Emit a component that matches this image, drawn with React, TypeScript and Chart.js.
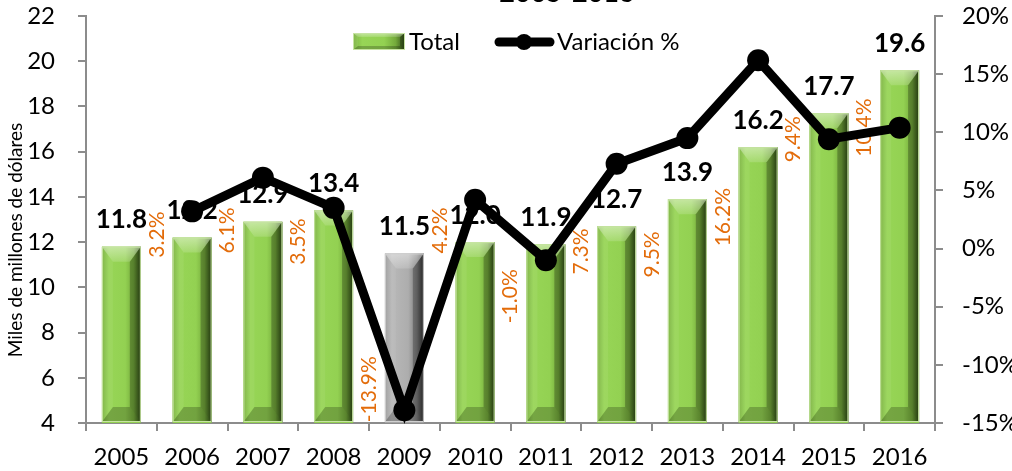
import React, { useEffect, useRef } from "react";
import { Chart, registerables } from "chart.js";

Chart.register(...registerables);

const years = ["2005", "2006", "2007", "2008", "2009", "2010", "2011", "2012", "2013", "2014", "2015", "2016"];
const totals = [11.8, 12.2, 12.9, 13.4, 11.5, 12.0, 11.9, 12.7, 13.9, 16.2, 17.7, 19.6];
const variation = [null, 3.2, 6.1, 3.5, -13.9, 4.2, -1.0, 7.3, 9.5, 16.2, 9.4, 10.4];
// where each rotated % label is centred, in right-axis units
const variationLabelAt = [null, 1.2, 1.55, 0.6, -12.1, 1.55, -4.1, -0.25, -0.5, 2.7, 9.4, 10.4];
const highlightYear = "2009";
const leftMin = 4, leftMax = 22, leftStep = 2;
const rightMin = -15, rightMax = 20, rightStep = 5;
const titleText = "2005-2016";
const yTitle = "Miles de millones de dólares";
const legendTotal = "Total";
const legendVar = "Variación %";

const FONT = "Lato, 'Open Sans', sans-serif";
const AXIS = "#8c8c8c";
const ORANGE = "#E36C0A";

const GREEN = { face: ["#7bb241", "#97d556", "#93d152", "#74aa3b", "#2f4c16"], edge: "#c6e3a2" };
const GRAY = { face: ["#9c9c9c", "#b8b8b8", "#adadad", "#7f7f7f", "#333333"], edge: "#d0d0d0" };

function drawBevel(ctx, x0, y0, x1, y1, pal, bh, bv) {
  const w = x1 - x0;
  const h = y1 - y0;
  if (w <= 0 || h <= 0) return;
  bv = Math.min(bv, h / 2);
  bh = Math.min(bh, w / 2);
  ctx.save();
  const g = ctx.createLinearGradient(x0, 0, x1, 0);
  g.addColorStop(0, pal.face[0]);
  g.addColorStop(0.18, pal.face[1]);
  g.addColorStop(0.6, pal.face[2]);
  g.addColorStop(0.82, pal.face[3]);
  g.addColorStop(1, pal.face[4]);
  ctx.fillStyle = g;
  ctx.fillRect(x0, y0, w, h);
  const poly = (pts, fill) => {
    ctx.beginPath();
    ctx.moveTo(pts[0][0], pts[0][1]);
    for (let i = 1; i < pts.length; i++) ctx.lineTo(pts[i][0], pts[i][1]);
    ctx.closePath();
    ctx.fillStyle = fill;
    ctx.fill();
  };
  const ix0 = x0 + bh, ix1 = x1 - bh, iy0 = y0 + bv, iy1 = y1 - bv;
  const tg = ctx.createLinearGradient(0, y0, 0, iy0);
  tg.addColorStop(0, "rgba(255,255,255,0.45)");
  tg.addColorStop(1, "rgba(255,255,255,0.15)");
  poly([[x0, y0], [x1, y0], [ix1, iy0], [ix0, iy0]], tg);
  poly([[x0, y1], [x1, y1], [ix1, iy1], [ix0, iy1]], "rgba(0,0,0,0.22)");
  poly([[x0, y0], [ix0, iy0], [ix0, iy1], [x0, y1]], "rgba(255,255,255,0.06)");
  poly([[x1, y0], [ix1, iy0], [ix1, iy1], [x1, y1]], "rgba(0,0,0,0.25)");
  ctx.strokeStyle = pal.edge;
  ctx.lineWidth = 1;
  ctx.strokeRect(x0 + 0.5, y0 + 0.5, w - 1, h - 1);
  ctx.restore();
}

const decor = {
  id: "decor",
  afterDatasetDraw(chart, args) {
    if (args.index !== 0) return;
    const ctx = chart.ctx;
    const meta = chart.getDatasetMeta(0);
    const xs = chart.scales.x;
    const y1 = chart.scales.y1;
    const bottom = chart.chartArea.bottom;
    const band = xs.width / years.length;
    meta.data.forEach((el, i) => {
      const p = el.getProps(["x", "y", "base", "width"], true);
      const pal = years[i] === highlightYear ? GRAY : GREEN;
      drawBevel(ctx, p.x - p.width / 2, p.y, p.x + p.width / 2, Math.min(p.base, bottom - 1), pal, 11, 15);
    });
    ctx.save();
    ctx.fillStyle = "#000";
    ctx.font = `bold 26px ${FONT}`;
    ctx.textAlign = "center";
    ctx.textBaseline = "middle";
    meta.data.forEach((el, i) => {
      const p = el.getProps(["x", "y"], true);
      ctx.fillText(totals[i].toFixed(1), p.x, p.y - 27);
    });
    ctx.fillStyle = ORANGE;
    ctx.font = `21px ${FONT}`;
    variation.forEach((v, i) => {
      if (v === null) return;
      const x = xs.getPixelForValue(i) - band / 2;
      const y = y1.getPixelForValue(variationLabelAt[i]);
      ctx.save();
      ctx.translate(x, y);
      ctx.rotate(-Math.PI / 2);
      ctx.fillText(v.toFixed(1) + "%", 0, 0);
      ctx.restore();
    });
    ctx.restore();
  },
  afterDraw(chart) {
    const ctx = chart.ctx;
    ctx.save();
    ctx.fillStyle = "#000";
    ctx.font = `bold 27px ${FONT}`;
    ctx.textAlign = "center";
    ctx.textBaseline = "alphabetic";
    ctx.fillText(titleText, 567, 2);
    ctx.save();
    ctx.translate(16, 240);
    ctx.rotate(-Math.PI / 2);
    ctx.font = `19px ${FONT}`;
    ctx.textBaseline = "middle";
    ctx.fillText(yTitle, 0, 0);
    ctx.restore();
    drawBevel(ctx, 353, 33, 405, 50, GREEN, 5, 4);
    ctx.font = `24px ${FONT}`;
    ctx.textAlign = "left";
    ctx.textBaseline = "middle";
    ctx.fillStyle = "#000";
    ctx.fillText(legendTotal, 409, 42);
    ctx.strokeStyle = "#000";
    ctx.lineWidth = 9;
    ctx.lineCap = "round";
    ctx.beginPath();
    ctx.moveTo(499, 42);
    ctx.lineTo(550, 42);
    ctx.stroke();
    ctx.beginPath();
    ctx.arc(524, 42, 8, 0, Math.PI * 2);
    ctx.fill();
    ctx.fillText(legendVar, 557, 42);
    ctx.restore();
  },
};

const noPadY = (w) => (s) => { s.width = w; s.paddingTop = 0; s.paddingBottom = 0; };

export default function App() {
  const ref = useRef(null);
  useEffect(() => {
    document.body.style.margin = "0";
    const chart = new Chart(ref.current, {
      type: "bar",
      data: {
        labels: years,
        datasets: [
          {
            type: "bar",
            label: legendTotal,
            data: totals,
            yAxisID: "y",
            backgroundColor: years.map((y) => (y === highlightYear ? "#a6a6a6" : "#92d050")),
            barPercentage: 0.55,
            categoryPercentage: 1,
            order: 2,
          },
          {
            type: "line",
            label: legendVar,
            data: variation,
            yAxisID: "y1",
            borderColor: "#000",
            backgroundColor: "#000",
            borderWidth: 9,
            pointRadius: 11,
            pointBorderWidth: 0,
            pointBackgroundColor: "#000",
            tension: 0,
            clip: false,
            order: 1,
          },
        ],
      },
      options: {
        responsive: false,
        animation: false,
        layout: { padding: { top: 16, left: 0, right: 0, bottom: 0 } },
        plugins: { legend: { display: false }, tooltip: { enabled: false }, title: { display: false } },
        scales: {
          x: {
            offset: true,
            grid: { offset: true, drawOnChartArea: false, tickLength: 8, color: AXIS, lineWidth: 2 },
            border: { color: AXIS, width: 2 },
            ticks: { font: { family: FONT, size: 24 }, color: "#000", padding: 12, maxRotation: 0, autoSkip: false },
            afterFit: (s) => { s.height = 48; s.paddingLeft = 0; s.paddingRight = 0; },
          },
          y: {
            position: "left",
            min: leftMin,
            max: leftMax,
            grid: { drawOnChartArea: false, tickLength: 8, color: AXIS, lineWidth: 2 },
            border: { color: AXIS, width: 2 },
            ticks: { stepSize: leftStep, font: { family: FONT, size: 24 }, color: "#000", padding: 23 },
            afterFit: noPadY(86),
          },
          y1: {
            position: "right",
            min: rightMin,
            max: rightMax,
            grid: { drawOnChartArea: false, tickLength: 8, color: AXIS, lineWidth: 2 },
            border: { color: AXIS, width: 2 },
            ticks: { stepSize: rightStep, font: { family: FONT, size: 24 }, color: "#000", padding: 19, callback: (v) => v + "%" },
            afterFit: noPadY(77),
          },
        },
      },
      plugins: [decor],
    });
    return () => chart.destroy();
  }, []);
  return (
    <div style={{ width: 1012, height: 471 }}>
      <canvas ref={ref} width={1012} height={471} />
    </div>
  );
}
